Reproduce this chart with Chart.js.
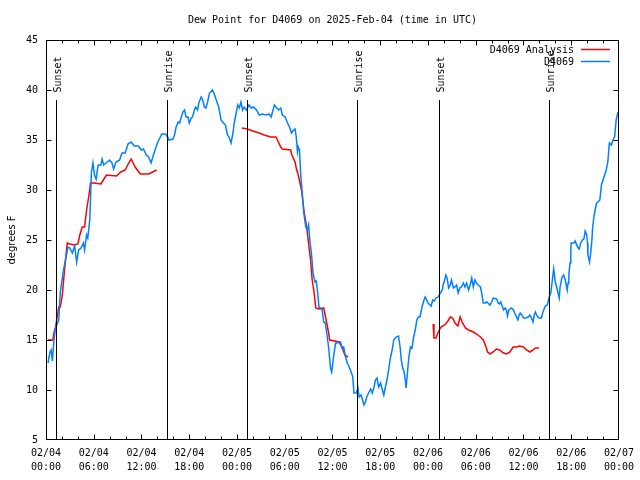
<!DOCTYPE html>
<html>
<head>
<meta charset="utf-8">
<title>Dew Point for D4069</title>
<script src="https://cdn.jsdelivr.net/npm/chart.js@4.4.1/dist/chart.umd.min.js"></script>
<style>
  html, body { margin: 0; padding: 0; background: #fff; }
  canvas { display: block; }
</style>
</head>
<body>
<canvas id="dewChart" width="640" height="480"></canvas>
<script>
const chartTitle = 'Dew Point for D4069 on 2025-Feb-04 (time in UTC)';
const yAxisLabel = 'degrees F';
const dayLabels = ['02/04', '02/05', '02/06', '02/07'];
const seriesNames = ['D4069 Analysis', 'D4069'];

// station obs (hours after 02/04 00:00 UTC)
const obsHours = [
  0.25, 0.5, 0.65, 0.8, 1.0, 1.2, 1.6, 1.8, 2.2, 2.5, 2.75, 3.0, 3.3, 3.6, 3.85, 4.1, 4.4, 4.7, 4.85,
  5.1, 5.25, 5.5, 5.6, 5.7, 5.9, 6.1, 6.3, 6.55, 6.9, 7.05, 7.25, 7.7, 8.0, 8.3, 8.5, 8.8, 9.25, 9.55,
  9.95, 10.3, 10.7, 11.1, 11.6, 12.0, 12.25, 12.6, 12.9, 13.2, 13.5, 13.7, 14.0, 14.3, 14.55, 15.0,
  15.3, 15.45, 15.95, 16.15, 16.35, 16.6, 16.8, 17.0, 17.2, 17.4, 17.6, 17.85, 18.0, 18.25, 18.4,
  18.65, 18.8, 19.05, 19.2, 19.5, 19.7, 19.9, 20.1, 20.3, 20.55, 20.9, 21.1, 21.4, 21.7, 22.0, 22.3,
  22.55, 22.8, 23.0, 23.25, 23.5, 23.65, 23.9, 24.1, 24.3, 24.5, 24.7, 24.9, 25.2, 25.5, 25.8, 26.1,
  26.45, 26.8, 27.2, 27.6, 28.05, 28.3, 28.7, 29.0, 29.2, 29.5, 29.7, 30.05, 30.35, 30.6, 30.85, 31.1,
  31.3, 31.45, 31.6, 31.7, 31.85, 32.0, 32.2, 32.4, 32.65, 32.85, 33.0, 33.15, 33.4, 33.55, 33.8,
  33.95, 34.15, 34.3, 34.5, 34.7, 34.9, 35.1, 35.35, 35.55, 35.75, 35.9, 36.2, 36.4, 36.6, 36.8, 37.0,
  37.2, 37.4, 37.65, 37.85, 38.1, 38.35, 38.55, 38.7, 39.0, 39.2, 39.35, 39.6, 39.95, 40.15, 40.3,
  40.6, 40.8, 41.0, 41.2, 41.4, 41.6, 41.8, 42.05, 42.2, 42.45, 42.65, 42.85, 43.05, 43.3, 43.5, 43.7,
  44.0, 44.3, 44.5, 44.65, 44.8, 45.0, 45.15, 45.25, 45.45, 45.6, 45.8, 46.0, 46.2, 46.4, 46.6, 46.8,
  47.0, 47.25, 47.5, 47.65, 47.85, 48.0, 48.4, 48.6, 48.8, 49.0, 49.3, 49.55, 49.8, 49.9, 50.1, 50.25,
  50.4, 50.6, 50.8, 50.95, 51.2, 51.4, 51.6, 51.8, 52.0, 52.2, 52.45, 52.65, 52.85, 53.1, 53.3, 53.5,
  53.7, 53.9, 54.1, 54.3, 54.6, 54.75, 54.95, 55.2, 55.4, 55.8, 56.0, 56.2, 56.65, 56.8, 57.0, 57.15,
  57.5, 57.7, 57.85, 58.0, 58.15, 58.5, 58.75, 58.9, 59.3, 59.45, 59.6, 59.8, 60.0, 60.3, 60.6, 60.8,
  61.0, 61.2, 61.35, 61.5, 61.65, 61.8, 62.0, 62.25, 62.45, 62.75, 63.0, 63.2, 63.45, 63.6, 63.8, 64.0,
  64.2, 64.4, 64.5, 64.6, 64.85, 65.05, 65.25, 65.5, 65.6, 65.7, 65.85, 65.95, 66.0, 66.35, 66.5, 66.8,
  67.0, 67.2, 67.4, 67.6, 67.75, 67.95, 68.05, 68.1, 68.3, 68.45, 68.6, 68.7, 68.85, 69.0, 69.2, 69.35,
  69.6, 69.8, 70.0, 70.2, 70.4, 70.6, 70.8, 71.05, 71.25, 71.45, 71.65, 71.85, 72.0
];
const obsValues = [
  12.7, 13.8, 14.0, 12.9, 15.0, 16.2, 17.0, 19.8, 22.0, 23.2, 24.3, 24.2, 23.7, 24.4, 22.8, 24.0, 24.2, 24.7, 24.0,
  25.5, 25.2, 27.0, 29.3, 31.7, 32.7, 31.5, 31.1, 32.5, 32.5, 33.1, 32.5, 32.8, 33.0, 32.7, 32.1, 32.8, 33.0, 33.7,
  33.7, 34.6, 34.8, 34.4, 34.4, 34.0, 34.1, 33.5, 33.3, 32.7, 33.5, 34.0, 34.7, 35.2, 35.6, 35.6,
  35.3, 35.0, 35.1, 35.5, 36.3, 36.8, 36.7, 37.3, 37.8, 38.0, 37.3, 37.3, 36.7, 37.2, 37.3,
  38.0, 38.3, 38.0, 38.7, 39.3, 39.0, 38.3, 38.2, 38.8, 39.7, 40.0, 39.7, 39.0, 38.3, 37.0, 36.7,
  36.5, 35.5, 35.3, 34.7, 35.7, 36.7, 37.7, 38.5, 38.2, 38.8, 38.0, 38.3, 38.0, 38.5, 38.2, 38.3,
  38.0, 37.5, 37.6, 37.5, 37.6, 37.3, 38.5, 38.2, 38.0, 38.2, 37.5, 37.3, 36.7, 36.3, 35.7, 36.0,
  36.1, 35.3, 33.8, 34.3, 34.0, 31.7, 29.7, 27.7, 26.3, 26.0, 26.5, 25.0, 23.3, 21.7, 20.8,
  20.9, 19.7, 18.3, 18.2, 18.0, 16.8, 16.7, 15.3, 14.0, 12.2, 11.8, 13.7, 14.7, 14.7, 14.8, 14.8,
  14.2, 14.3, 13.3, 12.7, 12.3, 11.8, 11.3, 9.7, 9.7, 10.2, 9.3, 9.5, 8.5, 8.8, 9.3,
  9.8, 10.1, 9.7, 10.2, 11.0, 11.2, 10.3, 10.7, 10.2, 9.5, 10.3, 11.0, 12.0, 13.3, 14.0, 15.0,
  15.3, 15.4, 14.3, 13.0, 12.3, 11.8, 11.0, 10.2, 12.0, 13.3, 14.3, 14.2, 15.3, 16.0, 17.0, 17.3,
  17.3, 18.3, 19.0, 19.3, 19.0, 18.7, 18.4, 19.0, 18.9, 19.2, 19.3, 19.7, 20.0, 20.5, 21.0, 21.5,
  21.2, 20.2, 20.5, 21.0, 20.2, 20.3, 20.5, 19.7, 20.2, 20.3, 20.7, 20.3, 20.7, 20.0, 20.5, 21.2,
  20.3, 21.0, 20.7, 20.5, 20.3, 19.7, 18.7, 18.7, 18.8, 18.5, 18.8, 19.2, 19.1, 18.7, 18.6, 18.8,
  18.0, 18.2, 18.0, 17.4, 18.0, 18.2, 18.0, 17.7, 17.0, 17.5, 17.7, 17.5, 17.2, 17.2, 17.3, 17.5,
  17.2, 16.8, 17.5, 17.8, 17.5, 17.3, 17.2, 17.2, 17.8, 18.4, 18.5, 19.2, 19.8, 20.8, 22.1, 20.8,
  20.2, 19.5, 19.2, 20.3, 21.3, 21.5, 21.0, 20.0, 20.7, 21.5, 22.7, 24.0, 24.7, 24.7, 24.9, 24.3,
  24.1, 24.7, 25.0, 25.1, 25.9, 25.5, 24.7, 23.5, 22.8, 23.7, 25.0, 26.3, 27.3, 28.0, 28.7, 28.8,
  29.0, 30.5, 31.0, 31.5, 32.0, 32.8, 34.7, 34.5, 35.0, 35.3, 37.0, 37.7, 37.8
];

// analysis (null = no analysis, line breaks there)
const anaHours = [
  0.25, 0.85, 1.0, 1.2, 1.4, 1.6, 1.8, 2.05, 2.25, 2.45, 2.67, 3.0, 3.55, 4.0, 4.25, 4.55, 4.85, 5.1,
  5.4, 5.6, 6.0, 6.9, 7.2, 7.6, 8.85, 9.4, 9.95, 10.4, 10.7, 11.2, 11.85, 12.9, 13.4, 13.9,
  19.0,
  24.6, 25.3, 26.0, 26.4, 26.8, 27.4, 28.25, 28.9, 29.2, 29.5, 29.7, 30.75, 30.9, 31.3, 31.45, 31.7,
  31.9, 32.15, 32.3, 32.45, 32.65, 32.85, 33.05, 33.25, 33.45, 33.7, 33.9, 34.3, 34.9, 35.2, 35.45,
  35.65, 36.3, 36.8, 37.2, 37.55, 37.95,
  43.0,
  48.65, 48.75, 49.0, 49.3, 49.65, 50.1, 50.5, 50.8, 51.1, 51.4, 51.75, 52.05, 52.3, 52.7, 53.1, 53.7,
  54.1, 54.6, 54.95, 55.3, 55.5, 55.8, 56.2, 56.6, 57.0, 57.5, 57.9, 58.3, 58.7, 59.1, 59.5, 60.0,
  60.4, 60.8, 61.2, 61.5, 61.95
];
const anaValues = [
  15.0, 15.0, 15.7, 16.3, 17.3, 18.3, 18.3, 19.5, 21.3, 23.0, 24.7, 24.6, 24.5, 24.6, 25.5, 26.3, 26.3, 28.0,
  29.5, 30.7, 30.7, 30.6, 31.0, 31.5, 31.4, 31.8, 32.0, 32.7, 33.1, 32.3, 31.6, 31.6, 31.8, 32.0,
  null,
  36.2, 36.1, 35.9, 35.8, 35.7, 35.5, 35.3, 35.3, 34.8, 34.3, 34.1, 34.0, 33.5, 32.8, 32.2, 31.5,
  30.8, 29.8, 28.7, 27.7, 26.8, 25.7, 24.3, 23.0, 21.0, 19.7, 18.2, 18.1, 18.2, 17.0, 16.0,
  15.0, 14.9, 14.8, 14.3, 13.5, 13.3,
  null,
  16.6, 15.2, 15.2, 15.8, 16.3, 16.5, 16.9, 17.3, 17.2, 16.7, 16.4, 17.3, 16.8, 16.2, 16.0, 15.8,
  15.6, 15.3, 15.0, 14.3, 13.8, 13.6, 13.8, 14.1, 14.0, 13.7, 13.6, 13.8, 14.3, 14.3, 14.4, 14.3,
  14.0, 13.8, 14.0, 14.2, 14.2
];

const eventHours = [1.3, 15.2, 25.3, 39.1, 49.35, 63.15];
const eventNames = ['Sunset', 'Sunrise', 'Sunset', 'Sunrise', 'Sunset', 'Sunrise'];

const monoFont = "'DejaVu Sans Mono', 'Liberation Mono', monospace";
const redColor = '#ff0000';
const blueColor = '#0080ff';
const lineW = 1.5;

function toPoints(xs, ys) {
  return xs.map((x, i) => ({ x: x, y: ys[i] }));
}

function tickLabel(h) {
  if (h % 6 !== 0) return '';
  const day = dayLabels[Math.floor(h / 24)];
  const hr = h % 24;
  return [day, (hr < 10 ? '0' : '') + hr + ':00'];
}

// frame, inward ticks, sunrise/sunset markers, title, legend
const decorPlugin = {
  id: 'decor',
  afterDraw(chart) {
    const ctx = chart.ctx;
    const area = chart.chartArea;
    const xs = chart.scales.x;
    const ys = chart.scales.y;
    const L = Math.round(area.left) + 0.5;
    const R = Math.round(area.right) - 0.5;
    const T = Math.round(area.top) + 0.5;
    const B = Math.round(area.bottom) - 0.5;

    ctx.save();
    ctx.strokeStyle = '#000';
    ctx.lineWidth = 1;
    ctx.strokeRect(L, T, R - L, B - T);

    ctx.beginPath();
    xs.ticks.forEach(t => {
      const px = Math.min(Math.round(xs.getPixelForValue(t.value)) + 0.5, R);
      const len = t.value % 6 === 0 ? 5 : 3;
      ctx.moveTo(px, B); ctx.lineTo(px, B - len);
      ctx.moveTo(px, T); ctx.lineTo(px, T + len);
    });
    ys.ticks.forEach(t => {
      const py = Math.min(Math.round(ys.getPixelForValue(t.value)) + 0.5, B);
      ctx.moveTo(L, py); ctx.lineTo(L + 5, py);
      ctx.moveTo(R, py); ctx.lineTo(R - 5, py);
    });
    ctx.stroke();

    // sunrise / sunset
    ctx.font = '10px ' + monoFont;
    ctx.fillStyle = '#000';
    eventHours.forEach((h, i) => {
      const px = Math.round(xs.getPixelForValue(h)) + 0.5;
      ctx.beginPath();
      ctx.moveTo(px, ys.getPixelForValue(39));
      ctx.lineTo(px, B);
      ctx.stroke();
      ctx.save();
      ctx.translate(px + 1.5, ys.getPixelForValue(39.75));
      ctx.rotate(-Math.PI / 2);
      ctx.textAlign = 'left';
      ctx.textBaseline = 'middle';
      ctx.fillText(eventNames[i], 0, 0);
      ctx.restore();
    });

    // title
    ctx.textAlign = 'center';
    ctx.textBaseline = 'middle';
    ctx.fillText(chartTitle, (area.left + area.right) / 2, 20);

    // y label
    ctx.save();
    ctx.font = '10px "DejaVu Sans", sans-serif';
    ctx.translate(12, (area.top + area.bottom) / 2);
    ctx.rotate(-Math.PI / 2);
    ctx.fillText(yAxisLabel, 0, 0);
    ctx.restore();

    // legend
    const colors = [redColor, blueColor];
    ctx.textAlign = 'right';
    ctx.lineWidth = lineW;
    seriesNames.forEach((name, i) => {
      const y = 50 + i * 12;
      ctx.fillStyle = '#000';
      ctx.fillText(name, 574, y);
      ctx.strokeStyle = colors[i];
      ctx.beginPath();
      ctx.moveTo(581, Math.round(y) - 0.5);
      ctx.lineTo(610, Math.round(y) - 0.5);
      ctx.stroke();
    });
    ctx.restore();
  }
};

new Chart(document.getElementById('dewChart'), {
  type: 'line',
  data: {
    datasets: [
      {
        label: seriesNames[0],
        data: toPoints(anaHours, anaValues),
        borderColor: redColor,
        borderWidth: lineW,
        pointRadius: 0,
        tension: 0,
        spanGaps: false,
        order: 1
      },
      {
        label: seriesNames[1],
        data: toPoints(obsHours, obsValues),
        borderColor: blueColor,
        borderWidth: lineW,
        pointRadius: 0,
        tension: 0,
        order: 0
      }
    ]
  },
  options: {
    responsive: false,
    animation: false,
    devicePixelRatio: 1,
    layout: { padding: { top: 40, right: 19, left: 0, bottom: 0 } },
    plugins: {
      legend: { display: false },
      title: { display: false },
      tooltip: { enabled: false }
    },
    scales: {
      x: {
        type: 'linear',
        min: 0,
        max: 72,
        afterFit(scale) { scale.height = 40; },
        grid: { display: false, drawTicks: false },
        border: { display: false },
        ticks: {
          stepSize: 2,
          autoSkip: false,
          maxRotation: 0,
          padding: 6,
          color: '#000',
          font: { family: monoFont, size: 10, lineHeight: 1.4 },
          callback: v => tickLabel(v)
        }
      },
      y: {
        min: 5,
        max: 45,
        afterFit(scale) { scale.width = 46; },
        grid: { display: false, drawTicks: false },
        border: { display: false },
        ticks: {
          stepSize: 5,
          padding: 8,
          color: '#000',
          font: { family: monoFont, size: 10 }
        }
      }
    }
  },
  plugins: [decorPlugin]
});
</script>
</body>
</html>
